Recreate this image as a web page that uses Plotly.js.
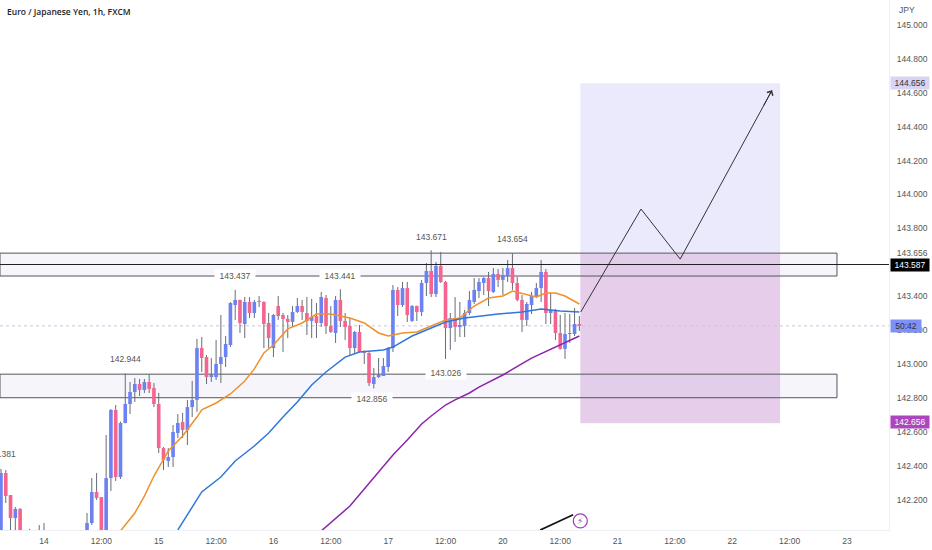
<!DOCTYPE html>
<html><head><meta charset="utf-8">
<script src="https://cdn.plot.ly/plotly-3.0.1.min.js"></script>
<style>html,body{margin:0;padding:0;background:#fff}#c{width:932px;height:550px}</style>
</head><body><div id="c"></div>
<script>
const FONT = '"Liberation Sans",sans-serif';
const barIndex = [-9,-8,-7,-6,-5,-3,-1,0,
 9,10,11,12,13,14,15,16,17,18,19,20,21,22,23,24,25,26,27,28,29,30,31,32,33,34,35,36,37,38,
 39,40,41,42,43,44,45,46,47,48,49,50,51,52,53,54,55,56,57,58,59,60,61,62,63,64,65,66,67,68,
 69,70,71,72,73,74,75,76,77,78,79,80,81,82,83,84,85,86,87,88,89,90,91,92,93,94,95,96,97,98,
 99,100,101,102,103,104,105,106,107,108,109,110,111,112];
const open = [141.962,142.357,142.227,142.091,142.145,141.95,141.95,141.97,
 141.99,142.062,142.245,142.215,141.99,142.327,142.729,142.333,142.652,142.764,
 142.835,142.882,142.847,142.894,142.858,142.764,142.504,142.428,142.451,142.593,
 142.658,142.611,142.746,142.788,143.094,143.041,142.923,142.923,143.0,143.041,
 143.112,143.348,143.378,143.236,143.366,143.301,143.372,143.366,143.242,143.094,
 143.342,143.289,143.266,143.248,143.307,143.342,143.301,143.254,143.283,143.242,
 143.389,143.224,143.183,143.378,143.254,143.224,143.094,143.189,143.077,143.065,
 142.882,142.923,142.929,142.982,143.094,143.437,143.348,143.448,143.254,143.342,
 143.307,143.478,143.549,143.413,143.578,143.484,143.212,143.271,143.218,143.224,
 143.301,143.366,143.43,143.478,143.507,143.425,143.531,143.496,143.519,143.566,
 143.478,143.378,143.26,143.348,143.395,143.448,143.543,143.301,143.319,143.183,
 143.089,143.177,143.177,143.236];
const close = [142.357,142.221,142.091,142.145,141.99,141.98,141.97,141.98,
 142.062,142.245,142.209,141.99,142.327,142.729,142.333,142.652,142.764,142.835,
 142.882,142.847,142.894,142.853,142.764,142.504,142.434,142.451,142.599,142.652,
 142.611,142.746,142.788,143.094,143.035,142.923,142.935,143.0,143.041,143.118,
 143.36,143.378,143.242,143.366,143.301,143.366,143.366,143.236,143.153,143.289,
 143.283,143.266,143.248,143.307,143.342,143.307,143.254,143.277,143.242,143.395,
 143.224,143.189,143.378,143.254,143.218,143.094,143.189,143.071,143.065,142.888,
 142.923,142.935,142.988,143.094,143.437,143.348,143.448,143.289,143.342,143.307,
 143.478,143.549,143.413,143.578,143.484,143.212,143.271,143.218,143.23,143.301,
 143.378,143.437,143.484,143.507,143.43,143.531,143.496,143.525,143.566,143.478,
 143.378,143.26,143.354,143.401,143.448,143.543,143.301,143.319,143.183,143.089,
 143.177,143.183,143.236,143.225];
const high = [142.381,142.375,142.227,142.156,142.15,142.027,142.05,142.062,
 142.121,142.327,142.357,142.215,142.581,142.734,142.758,142.66,142.944,142.894,
 142.917,142.912,142.912,142.941,142.888,142.829,142.51,142.504,142.64,142.705,
 142.711,142.788,142.9,143.148,143.159,143.053,143.035,143.142,143.289,143.165,
 143.366,143.437,143.38,143.395,143.395,143.378,143.401,143.37,143.301,143.295,
 143.401,143.301,143.289,143.342,143.389,143.378,143.395,143.384,143.36,143.425,
 143.407,143.342,143.401,143.441,143.301,143.271,143.195,143.23,143.08,143.07,
 142.976,143.035,143.035,143.1,143.466,143.454,143.484,143.484,143.348,143.345,
 143.496,143.596,143.671,143.602,143.661,143.49,143.301,143.395,143.366,143.319,
 143.43,143.507,143.507,143.513,143.543,143.566,143.56,143.566,143.614,143.654,
 143.513,143.407,143.366,143.425,143.478,143.614,143.56,143.419,143.325,143.289,
 143.301,143.295,143.33,143.283];
const low = [141.9,142.18,141.99,141.95,141.95,141.9,141.9,141.9,
 141.95,142.05,142.198,141.95,141.95,142.251,142.31,142.322,142.65,142.705,
 142.776,142.811,142.829,142.829,142.746,142.475,142.375,142.392,142.392,142.563,
 142.563,142.522,142.687,142.717,142.953,142.882,142.894,142.906,142.888,142.982,
 143.1,143.26,143.183,143.153,143.271,143.271,143.336,143.094,143.094,143.041,
 143.26,143.071,143.153,143.218,143.301,143.26,143.171,143.153,143.153,143.218,
 143.177,143.183,143.124,143.218,143.142,143.053,143.059,143.071,143.0,142.87,
 142.856,142.917,142.929,142.953,143.071,143.283,143.336,143.248,143.248,143.254,
 143.283,143.401,143.395,143.395,143.478,143.03,143.083,143.13,143.159,143.159,
 143.289,143.354,143.389,143.407,143.342,143.419,143.454,143.407,143.484,143.437,
 143.37,143.189,143.224,143.295,143.389,143.366,143.236,143.236,143.142,143.085,
 143.03,143.124,143.165,143.195];

const fastX = [16,19,21,23,26,29,32,33,36,39,42,44,46,48,51,54,57,60,64,67,70,72,75,78,81,84,87,90,93,96,98,101,103,105,107,109,112];
const fastY = [142.015,142.121,142.221,142.339,142.487,142.575,142.687,142.729,142.77,142.823,142.9,142.971,143.065,143.112,143.207,143.242,143.295,143.295,143.271,143.242,143.183,143.165,143.183,143.189,143.224,143.26,143.271,143.342,143.389,143.401,143.43,143.407,143.395,143.419,143.419,143.401,143.354];
const midX = [28,30,33,37,40,44,47,50,53,56,59,63,66,71,73,77,84,88,95,100,104,108,112];
const midY = [142.021,142.109,142.245,142.333,142.428,142.516,142.593,142.687,142.776,142.876,142.953,143.041,143.071,143.083,143.1,143.165,143.248,143.271,143.295,143.307,143.325,143.313,143.307];
const slowX = [58,64,70,73,76,79,81,84,86,89,91,96,102,107,112];
const slowY = [142.015,142.162,142.363,142.463,142.552,142.646,142.693,142.758,142.788,142.829,142.864,142.935,143.035,143.1,143.165];

const pathX = [112.3,124.9,133.1,152.3];
const pathY = [143.307,143.914,143.619,144.615];
const noteLineX = [103.8,110.7];
const noteLineY = [142.02,142.11];

const tickIdx = [0,12,24,36,48,60,72,84,96,108,120,132,144,156,168];
const tickTxt = ['14','12:00','15','12:00','16','12:00','17','12:00','20','12:00','21','12:00','22','12:00','23'];
const priceTicks = [142.2,142.4,142.6,142.8,143.0,143.2,143.4,143.656,143.8,144.0,144.2,144.4,144.6,144.8,145.0];
const priceTxt = ['142.200','142.400','142.600','142.800','143.000','143.200','143.400','143.656','143.800','144.000','144.200','144.400','144.600','144.800','145.000'];

const pivots = [
 {i:-9,p:142.47,t:'142.381'},{i:17,p:143.03,t:'142.944'},{i:81,p:143.752,t:'143.671'},{i:98,p:143.735,t:'143.654'}];
const zoneLabels = [
 {i:40,p:143.522,t:'143.437'},{i:62,p:143.522,t:'143.441'},{i:84,p:142.944,t:'143.026'},{i:68.7,p:142.793,t:'142.856'}];
const axisTags = [
 {p:144.656,t:'144.656',bg:'#d9d4f4',fg:'#333'},
 {p:143.587,t:'143.587',bg:'#000000',fg:'#fff'},
 {p:143.225,t:'50:42',bg:'#7f91f6',fg:'#333'},
 {p:142.656,t:'142.656',bg:'#ab47bc',fg:'#fff'}];

const BLUE='#6d82f2', PINK='#f4648f', GREY='#666c76';
const wickX=[], wickY=[];
barIndex.forEach((x,k)=>{
  const top=Math.max(open[k],close[k]), bot=Math.min(open[k],close[k]);
  wickX.push(x,x,null,x,x,null);
  wickY.push(low[k],bot,null,top,high[k],null);
});
const bodyBase = open.map((o,k)=>Math.min(o,close[k]));
const bodyLen = open.map((o,k)=>Math.abs(o-close[k]));
const bodyCol = open.map((o,k)=>close[k]>=o?BLUE:PINK);

const traces = [
 {type:'scatter',mode:'lines',x:wickX,y:wickY,line:{color:GREY,width:1},connectgaps:false,hoverinfo:'skip'},
 {type:'bar',x:barIndex,y:bodyLen,base:bodyBase,width:0.76,marker:{color:bodyCol,line:{width:0}},hoverinfo:'skip'},
 {type:'scatter',mode:'lines',x:fastX,y:fastY,line:{color:'#f0902a',width:1.5}},
 {type:'scatter',mode:'lines',x:midX,y:midY,line:{color:'#2f78d8',width:1.5}},
 {type:'scatter',mode:'lines',x:slowX,y:slowY,line:{color:'#8e24aa',width:1.5}},
 {type:'scatter',mode:'lines',x:pathX,y:pathY,line:{color:'#333',width:1}},
 {type:'scatter',mode:'lines',x:noteLineX,y:noteLineY,line:{color:'#111',width:1.6}}
];

const xL=-9.205, xR=176.78, yB=142.0206, yT=145.1475;
const rect=(x0,x1,y0,y1,fill,line,layer)=>({type:'rect',xref:'x',yref:'y',x0,x1,y0,y1,fillcolor:fill,line:line||{width:0},layer:layer||'below'});
const shapes = [
 rect(112.2,154,143.65,144.656,'#ebeafc'),
 rect(112.2,154,142.65,143.65,'#e6cdea'),
 rect(xL,165.9,143.519,143.654,'rgba(215,210,240,0.22)',{color:'#555',width:1}),
 rect(xL,165.9,142.801,142.94,'rgba(215,210,240,0.22)',{color:'#555',width:1}),
 {type:'line',xref:'x',yref:'y',x0:xL,x1:xR,y0:143.225,y1:143.225,line:{color:'#c9c5e6',width:1,dash:'dot'},layer:'below'},
 {type:'line',xref:'x',yref:'y',x0:xL,x1:xR,y0:143.587,y1:143.587,line:{color:'#222',width:1},layer:'above'},
 {type:'circle',xref:'x',yref:'y',xsizemode:'pixel',ysizemode:'pixel',xanchor:112.2,yanchor:142.074,x0:-7,x1:7,y0:-7,y1:7,fillcolor:'#fff',line:{color:'#9c3fb8',width:1.2},layer:'above'}
];

const txt = (t,size,color,extra)=>Object.assign({text:t,showarrow:false,font:{family:FONT,size:size,color:color}},extra);
const annotations = [];
annotations.push({text:'Euro / Japanese Yen, 1h, FXCM',showarrow:false,xref:'paper',yref:'paper',x:0.0056,y:1-12/530,xanchor:'left',yanchor:'middle',
  font:{family:'"Open Sans",sans-serif',size:8.5,weight:600,color:'#222'}});
annotations.push(txt('JPY',8.5,'#555',{xref:'paper',yref:'y',x:1.009,y:145.09,xanchor:'left'}));
pivots.forEach(a=>annotations.push(txt(a.t,8.5,'#555',{xref:'x',yref:'y',x:a.i,y:a.p})));
zoneLabels.forEach(a=>annotations.push(txt(a.t,8.5,'#555',{xref:'x',yref:'y',x:a.i,y:a.p,bgcolor:'#ffffff',borderpad:0,width:40,height:12})));
axisTags.forEach(a=>annotations.push(txt(a.t,8.5,a.fg,{xref:'paper',yref:'y',x:1.001,y:a.p,xanchor:'left',bgcolor:a.bg,borderpad:1,width:a.t.length>5?36:28})));
annotations.push({xref:'x',yref:'y',axref:'x',ayref:'y',x:pathX[3],y:pathY[3],
  ax:pathX[3]-0.1*(pathX[3]-pathX[2]),ay:pathY[3]-0.1*(pathY[3]-pathY[2]),
  text:'',showarrow:true,arrowhead:4,arrowsize:1.3,arrowwidth:1,arrowcolor:'#333',standoff:0});
annotations.push(txt('⚡',9,'#9c3fb8',{xref:'x',yref:'y',x:112.2,y:142.074,font:{family:'"DejaVu Sans"',size:9,color:'#9c3fb8'}}));

const layout = {
 width:932,height:550,margin:{l:0,r:43,t:0,b:20,pad:0},
 paper_bgcolor:'#fff',plot_bgcolor:'#fff',showlegend:false,barmode:'overlay',hovermode:false,
 xaxis:{type:'linear',range:[xL,xR],tickmode:'array',tickvals:tickIdx,ticktext:tickTxt,showgrid:false,zeroline:false,
  showline:true,linecolor:'#eef0f5',ticks:'outside',ticklen:3,tickcolor:'rgba(0,0,0,0)',tickfont:{family:FONT,size:8.5,color:'#555'},fixedrange:true},
 yaxis:{type:'linear',range:[yB,yT],side:'right',tickmode:'array',tickvals:priceTicks,ticktext:priceTxt,showgrid:false,zeroline:false,
  showline:true,linecolor:'#eef0f5',ticks:'outside',ticklen:5,tickcolor:'rgba(0,0,0,0)',tickfont:{family:FONT,size:8.5,color:'#555'},fixedrange:true},
 shapes,annotations
};
Plotly.newPlot('c',traces,layout,{displayModeBar:false,staticPlot:true});
</script></body></html>
